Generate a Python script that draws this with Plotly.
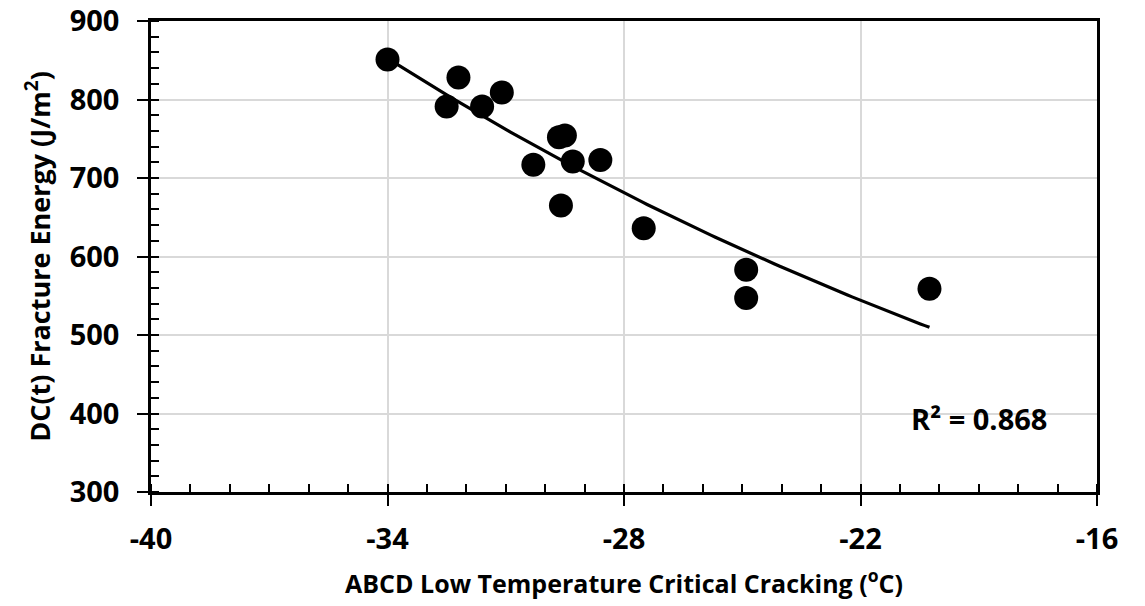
import numpy as np
import plotly.graph_objects as go

# ABCD critical cracking temperature (°C) and DC(t) fracture energy (J/m²)
crack_temp = [-34.0, -32.5, -32.2, -31.6, -31.1, -30.3, -29.65, -29.5,
              -29.6, -29.3, -28.6, -27.5, -24.9, -24.9, -20.25]
fracture_energy = [851, 791, 828, 791, 809, 717, 752, 754,
                   665, 721, 723, 636, 583, 547, 559]
r2_label = "R² = 0.868"

x_ticks = [-40, -34, -28, -22, -16]
x_tick_text = ["-40", "-34", "-28", "-22", "-16"]
y_ticks = [300, 400, 500, 600, 700, 800, 900]

# Exponential trendline (least squares on ln y), over the data range
xd = np.array(crack_temp)
yd = np.array(fracture_energy)
b, ln_a = np.polyfit(xd, np.log(yd), 1)
x_fit = np.linspace(xd.min(), xd.max(), 120)
y_fit = np.exp(ln_a) * np.exp(b * x_fit)

FONT = "Open Sans"
TICK_SIZE = 29

fig = go.Figure()
fig.add_trace(go.Scatter(
    x=x_fit, y=y_fit, mode="lines",
    line=dict(color="black", width=3.2),
    hoverinfo="skip", showlegend=False,
))
fig.add_trace(go.Scatter(
    x=crack_temp, y=fracture_energy, mode="markers",
    marker=dict(color="black", size=24, line=dict(width=0)),
    showlegend=False,
))

fig.add_annotation(
    x=-19.0, y=394, xref="x", yref="y",
    text="<b>" + r2_label + "</b>", showarrow=False,
    font=dict(family=FONT, size=29, color="black"),
)

axis_common = dict(
    showline=True, linecolor="black", linewidth=2.5, mirror=True,
    showgrid=True, gridcolor="#d9d9d9", gridwidth=2,
    zeroline=False, automargin=False, ticklabeloverflow="allow",
    ticks="outside", ticklen=11, tickwidth=2, tickcolor="black",
    tickfont=dict(family=FONT, size=TICK_SIZE, color="black", weight="bold"),
)

fig.update_xaxes(
    **axis_common,
    range=[-40, -16], tickvals=x_ticks, ticktext=x_tick_text,
    minor=dict(ticks="inside", ticklen=8, tickwidth=1.6, tickcolor="black",
               dtick=1, tick0=-40, showgrid=False),
    title=dict(text="<b>ABCD Low Temperature Critical Cracking (<sup>o</sup>C)</b>",
               font=dict(family=FONT, size=25, color="black"), standoff=20),
    ticklabelstandoff=8,
)
fig.update_yaxes(
    **axis_common,
    range=[300, 900], tickvals=y_ticks,
    minor=dict(ticks="inside", ticklen=8, tickwidth=1.6, tickcolor="black",
               dtick=20, tick0=300, showgrid=False),
    title=dict(text="<b>DC(t) Fracture Energy (J/m<sup>2</sup>)</b>",
               font=dict(family=FONT, size=27, color="black"), standoff=12),
    ticklabelstandoff=12,
)

fig.update_layout(
    width=1145, height=606,
    margin=dict(l=151, r=48, t=21, b=114),
    paper_bgcolor="white", plot_bgcolor="white",
    showlegend=False,
)

fig.write_html("out.html")
